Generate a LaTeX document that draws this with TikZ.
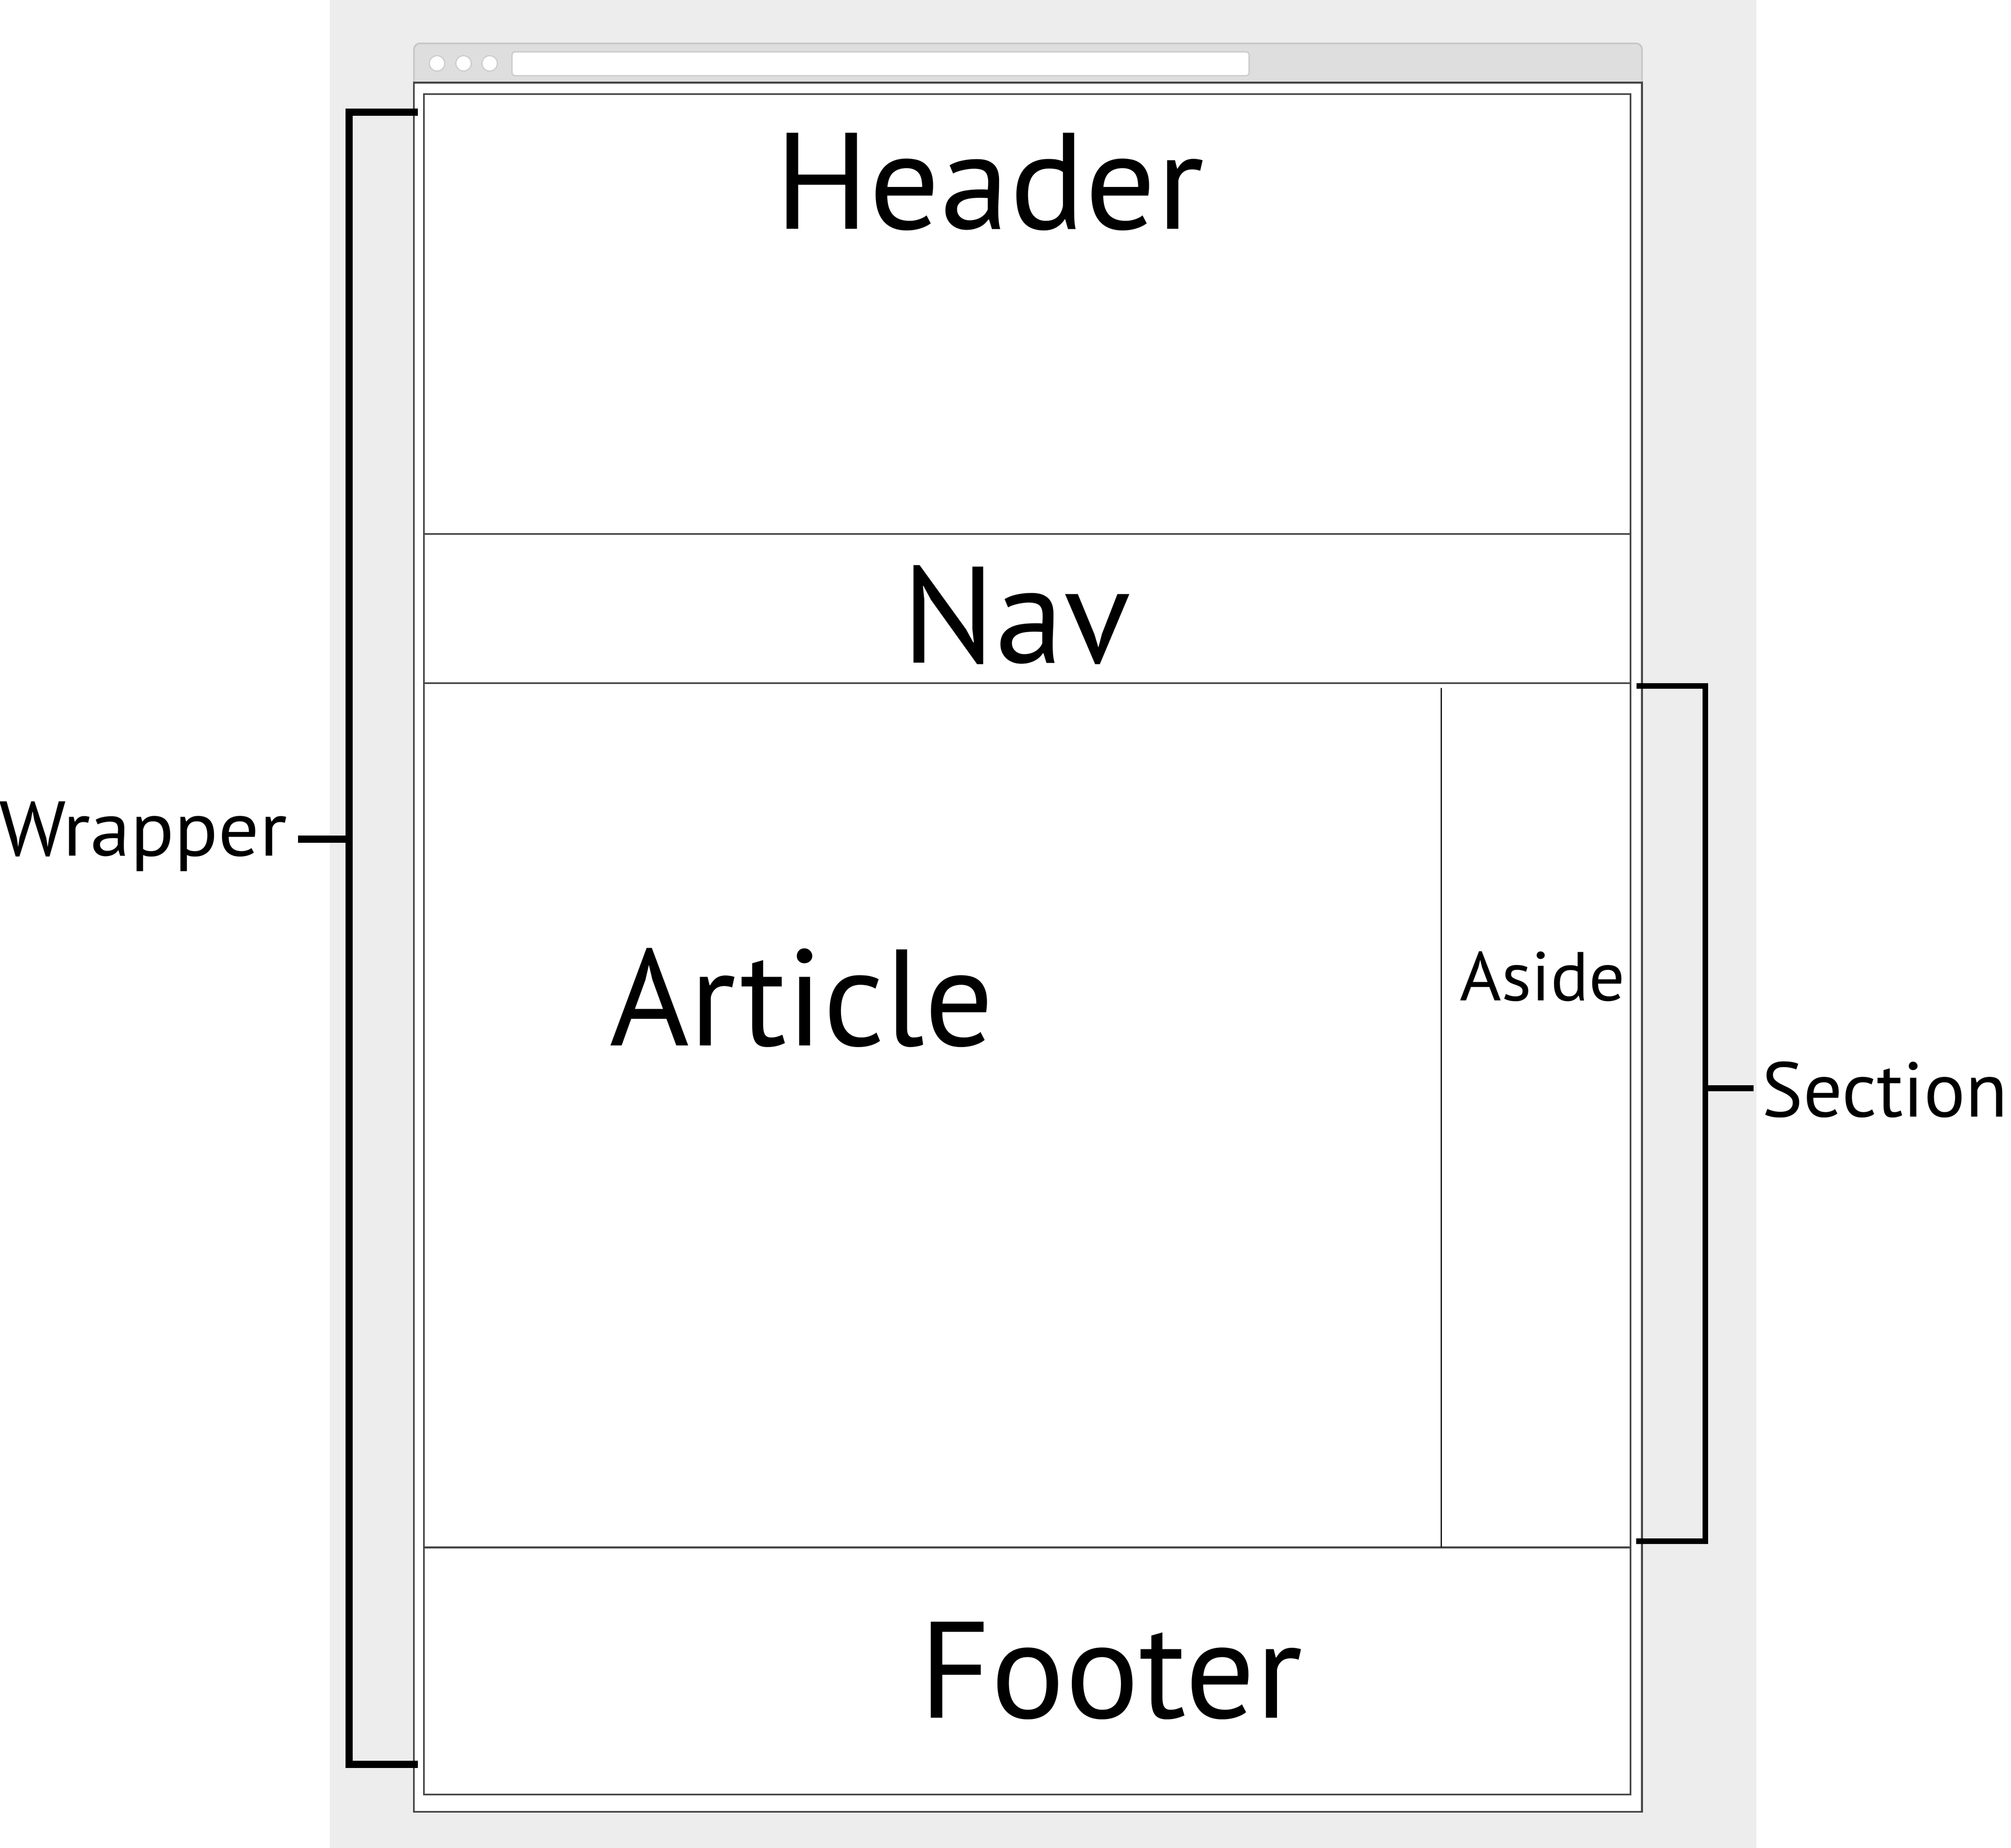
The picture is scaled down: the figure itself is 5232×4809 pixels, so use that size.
\documentclass[tikz,border=0pt]{standalone}
\usepackage{fontspec}
\setmainfont{PT Sans}
\usepackage{graphicx}
\definecolor{bgGray}{HTML}{EDEDED}
\definecolor{barGray}{HTML}{DEDEDE}
\definecolor{barLine}{HTML}{C8C8C8}
\definecolor{frameGray}{HTML}{444444}
\definecolor{dotLine}{HTML}{CCCCCC}
\newlength\fitlen
\newcommand\fitto[2]{\settowidth\fitlen{#2}\pgfmathsetmacro\fitfac{#1/\fitlen}\scalebox{\fitfac}[1]{#2}}
\tikzset{
  framebox/.style={draw=frameGray, line width=0.45pt},
  bracketline/.style={draw=black, line width=1.9pt, line join=miter, line cap=butt},
  bracketthin/.style={draw=black, line width=1.5pt, line join=miter, line cap=butt},
  bigtxt/.style={inner sep=0pt, anchor=base, font=\fontsize{35.7pt}{40pt}\selectfont},
  sidetxt/.style={inner sep=0pt, anchor=base, font=\fontsize{20.2pt}{24pt}\selectfont},
  asidetxt/.style={inner sep=0pt, anchor=base, font=\fontsize{18pt}{22pt}\selectfont},
}
\begin{document}
\begin{tikzpicture}[x=0.1pt,y=-0.1pt]
\useasboundingbox (0,0) rectangle (5232,4809);
\fill[white] (0,0) rectangle (5232,4809);
\fill[bgGray] (858,0) rectangle (4570,4809);
% browser bar
\filldraw[fill=barGray, draw=barLine, line width=0.45pt] (1077,215) [rounded corners=1.6pt] -- (1077,113) -- (4272,113) [sharp corners] -- (4272,215) -- cycle;
\foreach \cx in {1137,1206,1274}{
  \filldraw[fill=white, draw=dotLine, line width=0.3pt] (\cx,165) circle[radius=20];
}
\filldraw[fill=white, draw=dotLine, line width=0.35pt, rounded corners=0.8pt] (1332,135) rectangle (3250,197);
% page frames
\filldraw[fill=white, framebox] (1077,215) rectangle (4272,4715);
\draw[framebox] (1103,245) rectangle (4242,4670);
\draw[framebox] (1103,1390) -- (4242,1390);
\draw[framebox] (1103,1778) -- (4242,1778);
\draw[framebox] (1103,4027) -- (4242,4027);
\draw[black, line width=0.3pt] (3750,1790) -- (3750,4027);
% labels
\node[bigtxt] (header) at (2574,596) {\fitto{111.7pt}{Header}};
\node[bigtxt] (nav) at (2644,1725) {\fitto{59.5pt}{Nav}};
\node[bigtxt] (article) at (2086,2721) {\fitto{100pt}{Article}};
\node[bigtxt] (footer) at (2890,4471) {\fitto{99.6pt}{Footer}};
\node[asidetxt] (aside) at (4013,2604) {\fitto{43pt}{Aside}};
\node[sidetxt] (wrapper) at (372,2227) {\fitto{75pt}{Wrapper}};
\node[sidetxt] (section) at (4904,2906) {\fitto{64pt}{Section}};
% wrapper bracket
\coordinate (wtop) at (1087,292);
\coordinate (wbot) at (1087,4592);
\coordinate (wtick) at (775,2184);
\draw[bracketline] (wtop) -- (908,292) -- (908,4592) -- (wbot);
\draw[bracketline] (wtick) -- (908,2184);
% section bracket
\coordinate (stop) at (4258,1785);
\coordinate (sbot) at (4257,4011);
\coordinate (stick) at (4562,2832);
\draw[bracketthin] (stop) -- (4437,1785) -- (4437,4011) -- (sbot);
\draw[bracketthin] (4437,2832) -- (stick);
\end{tikzpicture}
\end{document}
